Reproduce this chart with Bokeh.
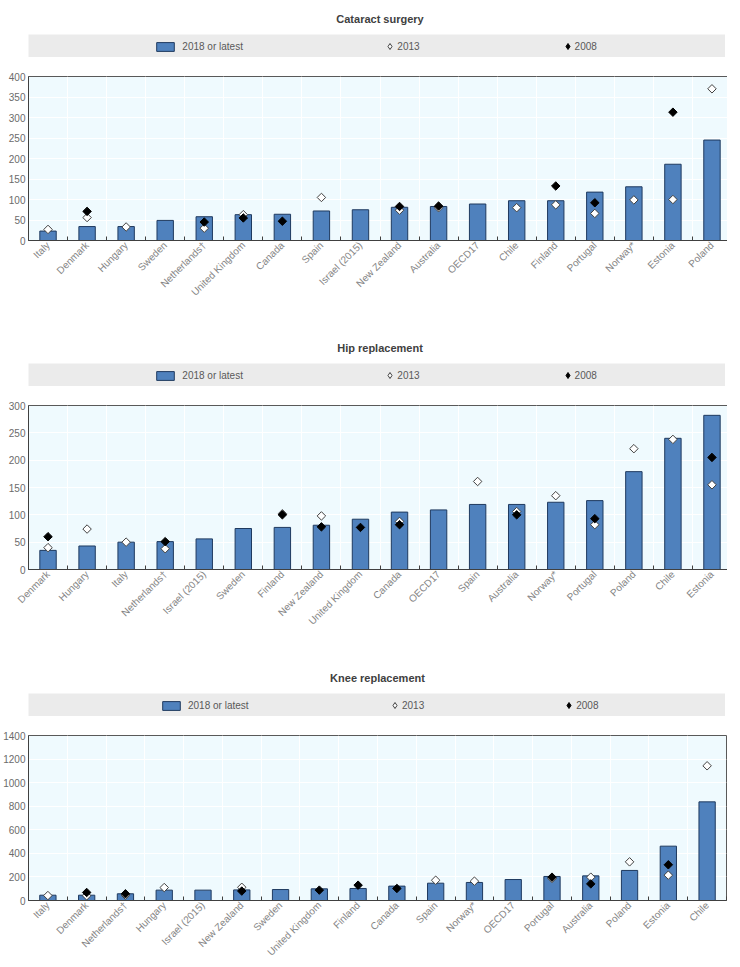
import math
import numpy as np
from bokeh.plotting import figure
from bokeh.layouts import column
from bokeh.models import Range1d, FixedTicker, Legend, LegendItem, ColumnDataSource
from bokeh.embed import file_html
from bokeh.resources import INLINE

# ---------------- data ----------------
cataract_countries = ["Italy", "Denmark", "Hungary", "Sweden", "Netherlands†", "United Kingdom",
                      "Canada", "Spain", "Israel (2015)", "New Zealand", "Australia", "OECD17",
                      "Chile", "Finland", "Portugal", "Norway*", "Estonia", "Poland"]
cataract_2018 = [23, 34, 34, 49, 58, 63, 64, 72, 75, 81, 83, 89, 97, 97, 118, 131, 186, 245]
cataract_2013 = [27, 56, 33, None, 30, 63, None, 105, None, 74, 80, None, 80, 87, 66, 99, 100, 370]
cataract_2008 = [None, 71, None, None, 45, 55, 47, None, None, 83, 84, None, None, 133, 92, None, 313, None]
cataract_ticks = [0, 50, 100, 150, 200, 250, 300, 350, 400]

hip_countries = ["Denmark", "Hungary", "Italy", "Netherlands†", "Israel (2015)", "Sweden", "Finland",
                 "New Zealand", "United Kingdom", "Canada", "OECD17", "Spain", "Australia", "Norway*",
                 "Portugal", "Poland", "Chile", "Estonia"]
hip_2018 = [35, 43, 50, 51, 56, 75, 77, 81, 92, 105, 109, 119, 119, 123, 126, 179, 240, 282]
hip_2013 = [40, 74, 50, 38, None, None, 102, 98, None, 88, None, 161, 106, 135, 82, 221, 238, 155]
hip_2008 = [60, None, None, 51, None, None, 100, 78, 77, 82, None, None, 100, None, 93, None, None, 205]
hip_ticks = [0, 50, 100, 150, 200, 250, 300]

knee_countries = ["Italy", "Denmark", "Netherlands†", "Hungary", "Israel (2015)", "New Zealand", "Sweden",
                  "United Kingdom", "Finland", "Canada", "Spain", "Norway*", "OECD17", "Portugal",
                  "Australia", "Poland", "Estonia", "Chile"]
knee_2018 = [45, 45, 57, 88, 88, 90, 93, 99, 102, 122, 147, 153, 178, 204, 209, 255, 461, 837]
knee_2013 = [42, 40, 45, 110, None, 112, None, None, None, None, 172, 164, None, 187, 198, 328, 215, 1143]
knee_2008 = [None, 68, 57, None, None, 80, None, 88, 130, 102, None, None, None, 198, 141, None, 303, None]
knee_ticks = [0, 200, 400, 600, 800, 1000, 1200, 1400]

series_labels = ["2018 or latest", "2013", "2008"]
titles = ["Cataract surgery", "Hip replacement", "Knee replacement"]

# ---------------- style ----------------
FONT = "Liberation Sans"
BAR_FILL = "#4F81BD"
BAR_LINE = "#1F3A5F"
BG = "#EFFAFE"
BAND = "#EBEBEB"
TXT = "#595959"


def arr(v):
    return np.array([np.nan if x is None else x for x in v], dtype=float)


def header(title, frame_width, border_left, title_area, bar_x, mark_x, mark_spacing):
    p = figure(frame_width=frame_width, frame_height=23, x_range=Range1d(0, 1), y_range=Range1d(0, 1),
               toolbar_location=None, output_backend="svg", x_axis_location=None, y_axis_location=None,
               min_border_left=border_left, min_border_right=1, min_border_top=title_area,
               min_border_bottom=0)
    p.grid.visible = False
    p.background_fill_color = BAND
    p.outline_line_color = None
    p.border_fill_color = "white"
    p.title.text = title
    p.title.align = "center"
    p.title.text_font = FONT
    p.title.text_font_size = "11px"
    p.title.text_font_style = "bold"
    p.title.text_color = "#404040"
    p.title.standoff = 19
    nan = [np.nan]
    # legend proxies (no visible data)
    r_bar = p.vbar(x=nan, top=nan, width=0.5, fill_color=BAR_FILL, line_color=BAR_LINE, line_width=1)
    r13 = p.scatter(x=nan, y=nan, marker="diamond", size=8,
                    fill_color="white", line_color="#404040", line_width=1)
    r08 = p.scatter(x=nan, y=nan, marker="diamond", size=8,
                    fill_color="black", line_color="black", line_width=1)
    common = dict(orientation="horizontal", padding=0, margin=0,
                  background_fill_alpha=0, border_line_color=None, item_background_fill_alpha=0,
                  label_text_font=FONT, label_text_font_size="10px", label_text_color=TXT)
    leg_bar = Legend(items=[LegendItem(label=series_labels[0], renderers=[r_bar])],
                     location=(bar_x, 5), glyph_width=22, glyph_height=11, label_standoff=6, **common)
    leg_mark = Legend(items=[LegendItem(label=series_labels[1], renderers=[r13]),
                             LegendItem(label=series_labels[2], renderers=[r08])],
                      location=(mark_x, 3), spacing=mark_spacing, glyph_width=15, glyph_height=16,
                      label_standoff=0, **common)
    p.add_layout(leg_bar)
    p.add_layout(leg_mark)
    return p


def panel(cats, v18, v13, v08, yticks, frame_width, frame_height, border_left, border_top, border_bottom):
    n = len(cats)
    idx = list(range(n))
    bounds = [i - 0.5 for i in range(n + 1)]
    p = figure(frame_width=frame_width, frame_height=frame_height,
               x_range=Range1d(-0.5, n - 0.5), y_range=Range1d(yticks[0], yticks[-1]),
               toolbar_location=None, output_backend="svg",
               min_border_left=border_left, min_border_right=1, min_border_top=border_top,
               min_border_bottom=border_bottom)
    p.background_fill_color = BG
    p.border_fill_color = "white"
    p.outline_line_color = "#595959"
    p.outline_line_width = 1
    src = ColumnDataSource(dict(x=idx, v18=arr(v18), v13=arr(v13), v08=arr(v08)))
    p.vbar(x="x", top="v18", width=0.42, source=src, fill_color=BAR_FILL, line_color=BAR_LINE, line_width=1)
    p.scatter(x="x", y="v13", source=src, marker="square", angle=math.pi / 4, size=6,
              fill_color="white", line_color="#404040", line_width=1)
    p.scatter(x="x", y="v08", source=src, marker="square", angle=math.pi / 4, size=6,
              fill_color="black", line_color="black", line_width=1)

    xa = p.xaxis[0]
    xa.ticker = FixedTicker(ticks=idx, minor_ticks=bounds)
    xa.major_label_overrides = {i: c for i, c in enumerate(cats)}
    xa.major_label_orientation = math.pi / 4
    xa.major_tick_in = 0
    xa.major_tick_out = 0
    xa.minor_tick_in = 4
    xa.minor_tick_out = 0
    xa.minor_tick_line_color = "#404040"
    xa.axis_line_color = "#404040"
    xa.major_label_text_font = FONT
    xa.major_label_text_font_size = "10px"
    xa.major_label_text_color = "#858585"
    xa.major_label_standoff = 3

    ya = p.yaxis[0]
    ya.ticker = FixedTicker(ticks=yticks)
    ya.major_tick_in = 0
    ya.major_tick_out = 0
    ya.minor_tick_in = 0
    ya.minor_tick_out = 0
    ya.axis_line_color = "#404040"
    ya.major_label_text_font = FONT
    ya.major_label_text_font_size = "10px"
    ya.major_label_text_color = "#6b6b6b"
    ya.major_label_standoff = 3

    p.xgrid.ticker = FixedTicker(ticks=bounds)
    p.xgrid.grid_line_color = "white"
    p.xgrid.grid_line_width = 1
    p.ygrid.grid_line_color = "white"
    p.ygrid.grid_line_width = 1
    return p


h1 = header(titles[0], 703, 21, 34, 147, 375, 140)
m1 = panel(cataract_countries, cataract_2018, cataract_2013, cataract_2008, cataract_ticks,
           703, 164, 21, 19, 90)
h2 = header(titles[1], 703, 21, 33, 147, 375, 140)
m2 = panel(hip_countries, hip_2018, hip_2013, hip_2008, hip_ticks, 703, 164, 21, 19, 91)
h3 = header(titles[2], 698, 26, 33, 151, 378, 137)
m3 = panel(knee_countries, knee_2018, knee_2013, knee_2008, knee_ticks, 698, 165, 26, 19, 58)

layout = column(h1, m1, h2, m2, h3, m3, spacing=0)

open("out.html", "w").write(file_html(layout, INLINE))
